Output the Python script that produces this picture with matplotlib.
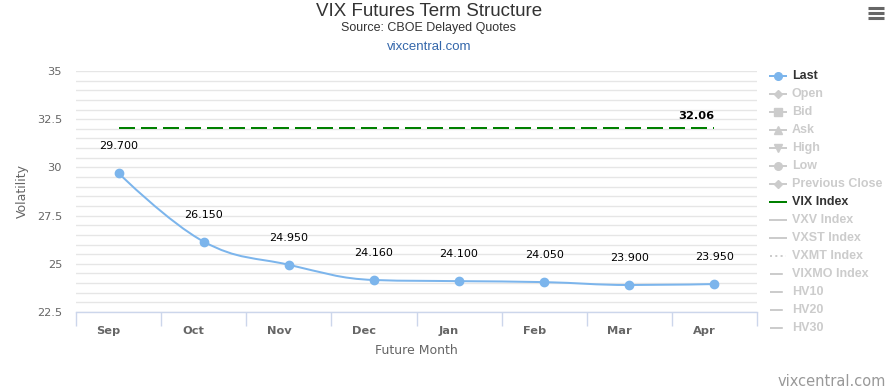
import matplotlib
matplotlib.use("Agg")
import matplotlib.pyplot as plt
import matplotlib.transforms as mtransforms
from matplotlib.path import Path
from matplotlib.patches import PathPatch
from matplotlib.lines import Line2D

# data
months = ["Sep", "Oct", "Nov", "Dec", "Jan", "Feb", "Mar", "Apr"]
last = [29.700, 26.150, 24.950, 24.160, 24.100, 24.050, 23.900, 23.950]
vix_index = 32.06

legend_names = ["Last", "Open", "Bid", "Ask", "High", "Low", "Previous Close",
                "VIX Index", "VXV Index", "VXST Index", "VXMT Index", "VIXMO Index",
                "HV10", "HV20", "HV30"]
legend_markers = ["o", "D", "s", "^", "v", "o", "D",
                  None, None, None, None, None, None, None, None]
legend_styles = ["-", "-", "-", "-", "-", "-", "-",
                 "-", "-", "-", ":", "-.", "-.", "-.", "-."]

W, H = 895, 391
BLUE = "#7cb5ec"
GREEN = "#008000"


def fx(px):
    return px / W


def fy(py):
    return 1 - py / H


# highcharts style spline (control points only, curve passes through the data)
def spline_path(xs, ys, smoothing=1.5):
    n = len(xs)
    lc = [None] * n
    rc = [None] * n
    d = smoothing + 1
    for i in range(1, n - 1):
        px, py = xs[i], ys[i]
        lx, ly = xs[i - 1], ys[i - 1]
        nx, ny = xs[i + 1], ys[i + 1]
        lcx = (smoothing * px + lx) / d
        lcy = (smoothing * py + ly) / d
        rcx = (smoothing * px + nx) / d
        rcy = (smoothing * py + ny) / d
        if rcx != lcx:
            corr = ((rcy - lcy) * (rcx - px)) / (rcx - lcx) + py - rcy
            lcy += corr
            rcy += corr
        if lcy > ly and lcy > py:
            lcy = max(ly, py)
            rcy = 2 * py - lcy
        elif lcy < ly and lcy < py:
            lcy = min(ly, py)
            rcy = 2 * py - lcy
        if rcy > ny and rcy > py:
            rcy = max(ny, py)
            lcy = 2 * py - rcy
        elif rcy < ny and rcy < py:
            rcy = min(ny, py)
            lcy = 2 * py - rcy
        lc[i] = (lcx, lcy)
        rc[i] = (rcx, rcy)
    verts = [(xs[0], ys[0])]
    codes = [Path.MOVETO]
    for i in range(1, n):
        c1 = rc[i - 1] if rc[i - 1] else (xs[i - 1], ys[i - 1])
        c2 = lc[i] if lc[i] else (xs[i], ys[i])
        verts += [c1, c2, (xs[i], ys[i])]
        codes += [Path.CURVE4] * 3
    return Path(verts, codes)


fig = plt.figure(figsize=(W / 100, H / 100), dpi=100)
ax = fig.add_axes([fx(76), fy(312), (757 - 76) / W, (312 - 71) / H])

xs = list(range(len(months)))

# grid
ax.set_ylim(22.5, 35)
ax.set_xlim(-0.5, len(months) - 0.5)
ax.set_yticks([22.5, 25, 27.5, 30, 32.5, 35])
ax.set_yticklabels(["22.5", "25", "27.5", "30", "32.5", "35"])
ax.set_yticks([22.5 + 0.5 * i for i in range(26)], minor=True)
ax.yaxis.grid(True, which="both", color="#e6e6e6", lw=1)
ax.set_axisbelow(True)
ax.tick_params(axis="y", which="both", length=0, pad=10, labelsize=8.2, labelcolor="#666666")

for s in ["top", "right", "left"]:
    ax.spines[s].set_visible(False)
ax.spines["bottom"].set_color("#ccd6eb")
ax.spines["bottom"].set_linewidth(1)

ax.set_xticks(xs)
ax.set_xticklabels(months, fontweight="bold", fontsize=8.2, color="#666666")
ax.set_xticks([i - 0.5 for i in range(len(months) + 1)], minor=True)
ax.tick_params(axis="x", which="major", length=0, pad=10)
ax.tick_params(axis="x", which="minor", length=10, width=1, color="#ccd6eb")
shift = mtransforms.ScaledTranslation(-10 / 100, 0, fig.dpi_scale_trans)
for lab in ax.get_xticklabels():
    lab.set_transform(lab.get_transform() + shift)

ax.set_xlabel("Future Month", fontsize=9, color="#666666", labelpad=6)
ax.set_ylabel("Volatility", fontsize=9, color="#666666")
ax.yaxis.set_label_coords((29 - 76) / 681, 0.5)

# VIX index line
ax.plot(xs, [vix_index] * len(xs), color=GREEN, lw=1.44, dashes=(8, 3), zorder=3)
ax.annotate(f"{vix_index:.2f}", (xs[-1], vix_index), xytext=(0, 8.5),
            textcoords="offset points", ha="right", va="center",
            fontsize=8.2, fontweight="bold", color="#000000")

# Last series
ax.add_patch(PathPatch(spline_path(xs, last), fill=False, edgecolor=BLUE, lw=1.44, zorder=4))
ax.plot(xs, last, "o", color=BLUE, ms=6, mec=BLUE, zorder=5)
for x, v in zip(xs, last):
    ax.annotate(f"{v:.3f}", (x, v), xytext=(0, 19.5), textcoords="offset points",
                ha="center", va="center", fontsize=8, color="#000000")

# titles
fig.text(fx(429), fy(11), "VIX Futures Term Structure", ha="center", va="center",
         fontsize=13.5, color="#333333", family="Liberation Sans")
fig.text(fx(429), fy(28), "Source: CBOE Delayed Quotes", ha="center", va="center",
         fontsize=9, color="#333333", family="Liberation Sans")
fig.text(fx(429), fy(47.5), "vixcentral.com", ha="center", va="center",
         fontsize=9.5, color="#3366aa", family="Liberation Sans")
fig.text(fx(886), fy(382), "vixcentral.com", ha="right", va="center",
         fontsize=10.5, color="#999999")

# menu icon
for yy in [8, 13.3, 18.3]:
    fig.add_artist(Line2D([fx(868), fx(884)], [fy(yy), fy(yy)], color="#666666",
                          lw=2.2, solid_capstyle="butt"))

# legend
for k, name in enumerate(legend_names):
    yy = 75.7 + 18 * k
    if name == "Last":
        col, tcol = BLUE, "#333333"
    elif name == "VIX Index":
        col, tcol = GREEN, "#333333"
    else:
        col, tcol = "#cccccc", "#cccccc"
    fig.add_artist(Line2D([fx(770), fx(786)], [fy(yy), fy(yy)], color=col, lw=1.44,
                          linestyle=legend_styles[k]))
    if legend_markers[k]:
        fig.add_artist(Line2D([fx(778)], [fy(yy)], marker=legend_markers[k], color=col,
                              ms=4.5 if legend_markers[k] == "D" else 5.5, mec=col))
    fig.text(fx(792), fy(yy), name, ha="left", va="center", fontsize=9,
             fontweight="bold", color=tcol, family="Liberation Sans")

fig.savefig("out.png", dpi=100)
